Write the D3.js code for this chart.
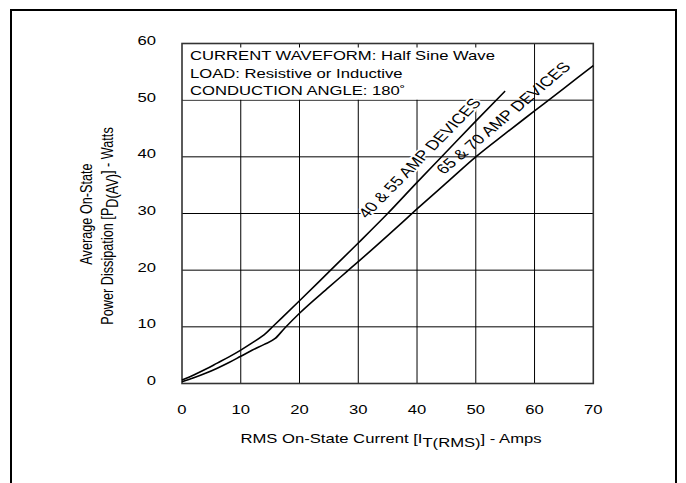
<!DOCTYPE html>
<html><head><meta charset="utf-8">
<script src="https://cdn.jsdelivr.net/npm/d3@7"></script>
<style>
html,body{margin:0;padding:0;background:#fff;}
svg{display:block;font-family:"Liberation Sans",Arial,sans-serif;}
</style></head>
<body>
<svg id="chart" width="686" height="483"></svg>
<script>
// ---- data ----
const xTicks = [0, 10, 20, 30, 40, 50, 60, 70];
const yTicks = [0, 10, 20, 30, 40, 50, 60];
// 40 & 55 AMP DEVICES
const ampsSmall  = [0, 2, 4, 6, 8, 10, 12, 14.3, 15.5, 20, 25, 30, 35, 40, 45, 50, 55];
const wattsSmall = [0.6, 1.5, 2.5, 3.6, 4.7, 5.9, 7.2, 8.9, 10.1, 14.6, 19.7, 24.8, 30.0, 35.5, 40.9, 46.3, 51.6];
// 65 & 70 AMP DEVICES
const ampsLarge  = [0, 2, 4, 6, 8, 10, 12, 14, 15.8, 17.5, 20, 25, 28, 30, 35, 40, 45, 50, 55, 60, 65, 70];
const wattsLarge = [0.3, 1.0, 1.8, 2.7, 3.7, 4.8, 5.9, 6.9, 7.9, 9.8, 12.4, 17.0, 19.7, 21.5, 26.1, 30.8, 35.4, 40.0, 44.1, 48.1, 52.1, 56.1];
const seriesLabels = ["40 & 55 AMP DEVICES", "65 & 70 AMP DEVICES"];
const noteLines = ["CURRENT WAVEFORM: Half Sine Wave", "LOAD: Resistive or Inductive", "CONDUCTION ANGLE: 180\u02DA"];

// ---- drawing ----
const SX = 1.28; // horizontal stretch of the lettering in the original
const svg = d3.select("#chart");
const x = d3.scaleLinear().domain([0, 70]).range([182, 593.3]);
const y = d3.scaleLinear().domain([0, 60]).range([383.5, 43.5]);

function stretched(px, py, rot) {
  return `translate(${px},${py}) scale(${SX},1)` + (rot ? ` rotate(${rot})` : "");
}

// outer frame (bottom edge outside view)
svg.append("rect").attr("x", 11).attr("y", 10).attr("width", 665).attr("height", 500)
  .attr("fill", "none").attr("stroke", "#000").attr("stroke-width", 2);

// grid
svg.append("g").selectAll("line").data(xTicks.slice(1, -1)).join("line")
  .attr("x1", d => x(d)).attr("x2", d => x(d))
  .attr("y1", y(60)).attr("y2", y(0))
  .attr("stroke", "#000").attr("stroke-width", 1);
svg.append("g").selectAll("line").data(yTicks.slice(1, -1)).join("line")
  .attr("x1", x(0)).attr("x2", x(70))
  .attr("y1", d => y(d)).attr("y2", d => y(d))
  .attr("stroke", "#000").attr("stroke-width", 1);

// note box (white, bounded by the 60 A grid line and 50 W grid line)
svg.append("rect").attr("x", x(0) + 1).attr("y", y(60) + 4)
  .attr("width", x(60) - x(0) - 1.5).attr("height", y(50) - y(60) - 4.5)
  .attr("fill", "#fff");
svg.append("g").selectAll("text").data(noteLines).join("text")
  .attr("transform", (d, i) => stretched(190, 60 + i * 17.5))
  .attr("font-size", 13).attr("fill", "#000").text(d => d);

// plot border
svg.append("rect").attr("x", x(0)).attr("y", y(60))
  .attr("width", x(70) - x(0)).attr("height", y(0) - y(60))
  .attr("fill", "none").attr("stroke", "#333").attr("stroke-width", 1.6);

// curves
const line = d3.line().x(d => x(d[0])).y(d => y(d[1])).curve(d3.curveMonotoneX);
const small = ampsSmall.map((a, i) => [a, wattsSmall[i]]);
const large = ampsLarge.map((a, i) => [a, wattsLarge[i]]);

// curve labels
svg.append("text").attr("transform", stretched(367, 219, -52.3))
  .attr("font-size", 14).attr("fill", "#000")
  .attr("stroke", "#fff").attr("stroke-width", 3).attr("paint-order", "stroke")
  .text(seriesLabels[0]);
svg.append("text").attr("transform", stretched(444, 175, -47.2))
  .attr("font-size", 14).attr("fill", "#000")
  .text(seriesLabels[1]);

[small, large].forEach(s => {
  svg.append("path").attr("d", line(s)).attr("fill", "none")
    .attr("stroke", "#000").attr("stroke-width", 1.6);
});

// tick labels
svg.append("g").selectAll("text").data(yTicks).join("text")
  .attr("transform", d => stretched(156, y(d) + 1.5))
  .attr("text-anchor", "end").attr("font-size", 13).text(d => d);
svg.append("g").selectAll("text").data(xTicks).join("text")
  .attr("transform", d => stretched(x(d), 414))
  .attr("text-anchor", "middle").attr("font-size", 13).text(d => d);

// axis titles
const xt = svg.append("text").attr("transform", stretched(391, 442.5))
  .attr("text-anchor", "middle").attr("font-size", 13);
xt.append("tspan").text("RMS On-State Current [I");
xt.append("tspan").attr("dy", 4).text("T(RMS)");
xt.append("tspan").attr("dy", -4).text("] - Amps");

svg.append("text").attr("transform", stretched(92, 214, -90))
  .attr("text-anchor", "middle").attr("font-size", 12.7).text("Average On-State");
const yt = svg.append("text").attr("transform", stretched(113, 226, -90))
  .attr("text-anchor", "middle").attr("font-size", 12.7);
yt.append("tspan").text("Power Dissipation [P");
yt.append("tspan").attr("dy", 4).text("D(AV)");
yt.append("tspan").attr("dy", -4).text("] - Watts");
</script>
</body></html>
